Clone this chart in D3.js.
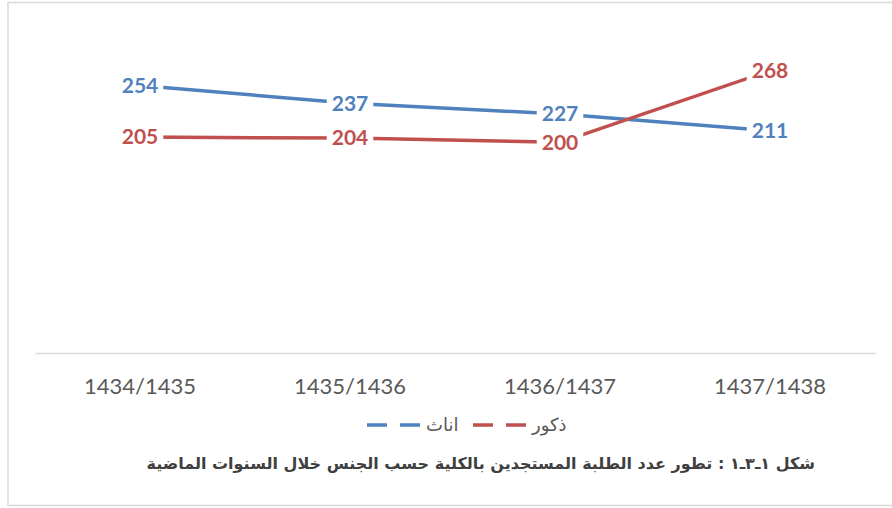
<!DOCTYPE html>
<html>
<head>
<meta charset="utf-8">
<script src="https://cdn.jsdelivr.net/npm/d3@7"></script>
<style>
  body { margin: 0; background: #fff; }
  svg { display: block; }
</style>
</head>
<body>
<div id="chart"></div>
<script>
// Data
var years = ["1434/1435", "1435/1436", "1436/1437", "1437/1438"];
var females = [254, 237, 227, 211];   // اناث
var males = [205, 204, 200, 268];     // ذكور
var seriesNames = ["اناث", "ذكور"];
var seriesColors = ["#4f81bd", "#c0504d"];
var caption = "شكل ١ـ٣ـ١ : تطور عدد الطلبة المستجدين بالكلية حسب الجنس خلال السنوات الماضية";

var svgWidth = 892;
var svgHeight = 508;

var margin = { top: 37, right: 17, bottom: 155, left: 35 };
var width = svgWidth - margin.left - margin.right;
var height = svgHeight - margin.top - margin.bottom;

var svg = d3.select("#chart")
  .append("svg")
  .attr("width", svgWidth)
  .attr("height", svgHeight);

// chart border
svg.append("rect")
  .attr("x", 8)
  .attr("y", 2.5)
  .attr("width", 900)
  .attr("height", 503)
  .attr("fill", "none")
  .attr("stroke", "#d9d9d9")
  .attr("stroke-width", 1.5);

var chartGroup = svg.append("g")
  .attr("transform", `translate(${margin.left}, ${margin.top})`);

// Scales
var xScale = d3.scaleBand()
  .domain(years)
  .range([0, width]);

var yScale = d3.scaleLinear()
  .domain([0, 300])
  .range([height, 0]);

var xPos = d => xScale(d) + xScale.bandwidth() / 2;

// bottom axis
var bottomAxis = d3.axisBottom(xScale).tickSize(0).tickPadding(25);
var axisG = chartGroup.append("g")
  .attr("transform", `translate(0, ${height})`)
  .call(bottomAxis);
axisG.select(".domain")
  .attr("stroke", "#d9d9d9")
  .attr("stroke-width", 1.5);
axisG.selectAll("text")
  .attr("font-family", "Lato, 'Open Sans', sans-serif")
  .attr("font-size", "22px")
  .attr("fill", "#595959");

// Lines
var series = [females, males];
var line = d3.line()
  .x((d, i) => xPos(years[i]))
  .y(d => yScale(d));

series.forEach(function(vals, s) {
  chartGroup.append("path")
    .datum(vals)
    .attr("d", line)
    .attr("fill", "none")
    .attr("stroke", seriesColors[s])
    .attr("stroke-width", 3.5)
    .attr("stroke-linejoin", "round");
});

// Data labels with white boxes
series.forEach(function(vals, s) {
  var lg = chartGroup.append("g");
  vals.forEach(function(v, i) {
    var g = lg.append("g")
      .attr("transform", `translate(${xPos(years[i])}, ${yScale(v)})`);
    var bg = g.append("rect").attr("fill", "#fff");
    var t = g.append("text")
      .text(v)
      .attr("text-anchor", "middle")
      .attr("dy", "0.35em")
      .attr("font-family", "Lato, 'Open Sans', sans-serif")
      .attr("font-size", "21px")
      .attr("font-weight", "bold")
      .attr("fill", seriesColors[s]);
    var bb = t.node().getBBox();
    bg.attr("x", bb.x - 5).attr("y", bb.y - 1)
      .attr("width", bb.width + 10).attr("height", bb.height + 2);
  });
});

// Legend
var legendItems = [
  { name: seriesNames[0], color: seriesColors[0], x: 367 },
  { name: seriesNames[1], color: seriesColors[1], x: 473 }
];
legendItems.forEach(function(d) {
  var g = svg.append("g").attr("transform", `translate(${d.x}, 425)`);
  g.append("line")
    .attr("x1", 0).attr("x2", 54)
    .attr("stroke", d.color)
    .attr("stroke-width", 3.5)
    .attr("stroke-dasharray", "20,13");
  g.append("text")
    .text(d.name)
    .attr("x", 59)
    .attr("dy", "0.35em")
    .attr("direction", "rtl")
    .attr("text-anchor", "end")
    .attr("font-family", "'DejaVu Sans', sans-serif")
    .attr("font-size", "18px")
    .attr("fill", "#595959");
});

// Caption
svg.append("text")
  .attr("x", 815)
  .attr("y", 469)
  .attr("direction", "rtl")
  .attr("text-anchor", "start")
  .attr("font-family", "'DejaVu Sans', sans-serif")
  .attr("font-size", "16px")
  .attr("font-weight", "bold")
  .attr("fill", "#404040")
  .text(caption);
</script>
</body>
</html>
